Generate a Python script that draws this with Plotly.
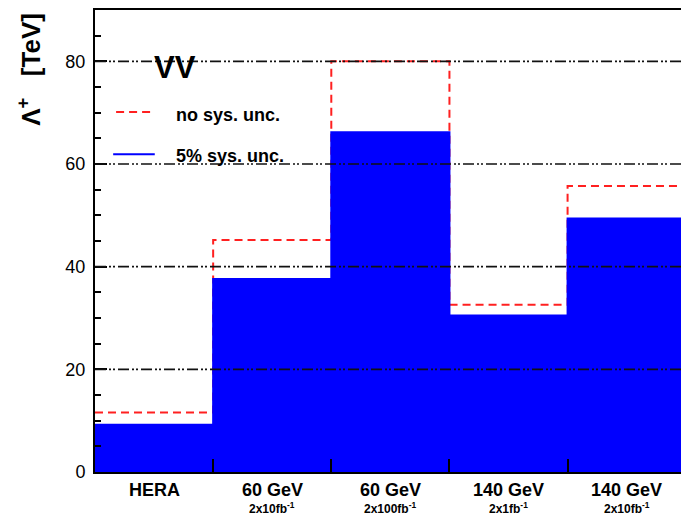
import plotly.graph_objects as go

# Lambda+ limits [TeV] per scenario, VV coupling
categories = ["HERA", "60 GeV", "60 GeV", "140 GeV", "140 GeV"]
sublabels = ["", "2x10fb<sup>-1</sup>", "2x100fb<sup>-1</sup>", "2x1fb<sup>-1</sup>", "2x10fb<sup>-1</sup>"]
with_sys = [9.2, 37.6, 66.2, 30.5, 49.4]      # 5% sys. unc.
no_sys = [11.6, 45.2, 80.0, 32.6, 55.7]        # no sys. unc.
grid_vals = [20, 40, 60, 80]
y_ticks = [0, 20, 40, 60, 80]

FONT = "Liberation Sans, Arial, sans-serif"
n = len(categories)
edges = list(range(n + 1))
centers = [i + 0.5 for i in range(n)]

fig = go.Figure()

# dashed outline (drawn first so the filled histogram sits on top of it)
fig.add_trace(go.Scatter(
    x=edges, y=no_sys + [no_sys[-1]],
    mode="lines", line=dict(color="#ff2020", width=2, dash="8px,5px", shape="hv"),
    showlegend=False, hoverinfo="skip",
))

# filled step histogram; its outline hides the dashed verticals along bin edges
fig.add_trace(go.Scatter(
    x=edges, y=with_sys + [with_sys[-1]],
    mode="lines", fill="tozeroy", fillcolor="#0000ff",
    line=dict(color="#0000ff", width=2, shape="hv"),
    showlegend=False, hoverinfo="skip",
))

shapes = []
# dash-dot-dot reference lines on top of the histogram
for v in grid_vals:
    shapes.append(dict(type="line", xref="paper", yref="y", x0=0, x1=1, y0=v, y1=v,
                       line=dict(color="#111111", width=1.6, dash="11px,3px,2px,2px,2px,3px"),
                       layer="above"))

# legend samples
shapes.append(dict(type="line", xref="paper", yref="paper", x0=0.036, x1=0.102, y0=0.779, y1=0.779,
                   line=dict(color="#ff2020", width=2, dash="8px,5px")))
shapes.append(dict(type="line", xref="paper", yref="paper", x0=0.031, x1=0.102, y0=0.688, y1=0.688,
                   line=dict(color="#0000ff", width=2)))

annotations = [
    dict(text="<b>VV</b>", xref="paper", yref="paper", x=0.137, y=0.876,
         xanchor="center", yanchor="middle", showarrow=False,
         font=dict(family=FONT, size=31, color="black")),
    dict(text="<b>no sys. unc.</b>", xref="paper", yref="paper", x=0.134, y=0.773,
         xanchor="left", yanchor="middle", showarrow=False,
         font=dict(family=FONT, size=18, color="black")),
    dict(text="<b>5% sys. unc.</b>", xref="paper", yref="paper", x=0.134, y=0.684,
         xanchor="left", yanchor="middle", showarrow=False,
         font=dict(family=FONT, size=18, color="black")),
    dict(text="<b>Λ<sup>+</sup>&nbsp;&nbsp;&nbsp;[TeV]</b>", xref="paper", yref="paper", x=-0.112, y=0.998,
         xanchor="center", yanchor="top", textangle=-90, showarrow=False,
         font=dict(family=FONT, size=26, color="black")),
]
for c, lab, sub in zip(centers, categories, sublabels):
    annotations.append(dict(text=f"<b>{lab}</b>", xref="x", yref="paper", x=c, y=-0.039,
                            xanchor="center", yanchor="middle", showarrow=False,
                            font=dict(family=FONT, size=18, color="black")))
    if sub:
        annotations.append(dict(text=f"<b>{sub}</b>", xref="x", yref="paper", x=c, y=-0.077,
                                xanchor="center", yanchor="middle", showarrow=False,
                                font=dict(family=FONT, size=12, color="black")))

fig.update_layout(
    width=681, height=515,
    margin=dict(l=95, r=0, t=10, b=43),
    paper_bgcolor="white", plot_bgcolor="white",
    showlegend=False,
    shapes=shapes, annotations=annotations,
    xaxis=dict(range=[0, 4.96], showgrid=False, zeroline=False,
               showline=True, linecolor="black", linewidth=2, mirror=True,
               tickmode="array", tickvals=edges, ticks="inside", ticklen=13,
               tickwidth=2, tickcolor="black", showticklabels=False),
    yaxis=dict(range=[0, 90], showgrid=False, zeroline=False,
               showline=True, linecolor="black", linewidth=2,
               tickmode="array", tickvals=y_ticks, ticks="inside", ticklen=12,
               tickwidth=1.5, tickcolor="black",
               minor=dict(dtick=5, ticks="inside", ticklen=6, tickcolor="black", tickwidth=1.5),
               tickfont=dict(family=FONT, size=18, color="black"),
               ticklabelstandoff=4),
)
fig.update_yaxes(tickprefix="<b>", ticksuffix="</b>")

fig.write_html("out.html")
